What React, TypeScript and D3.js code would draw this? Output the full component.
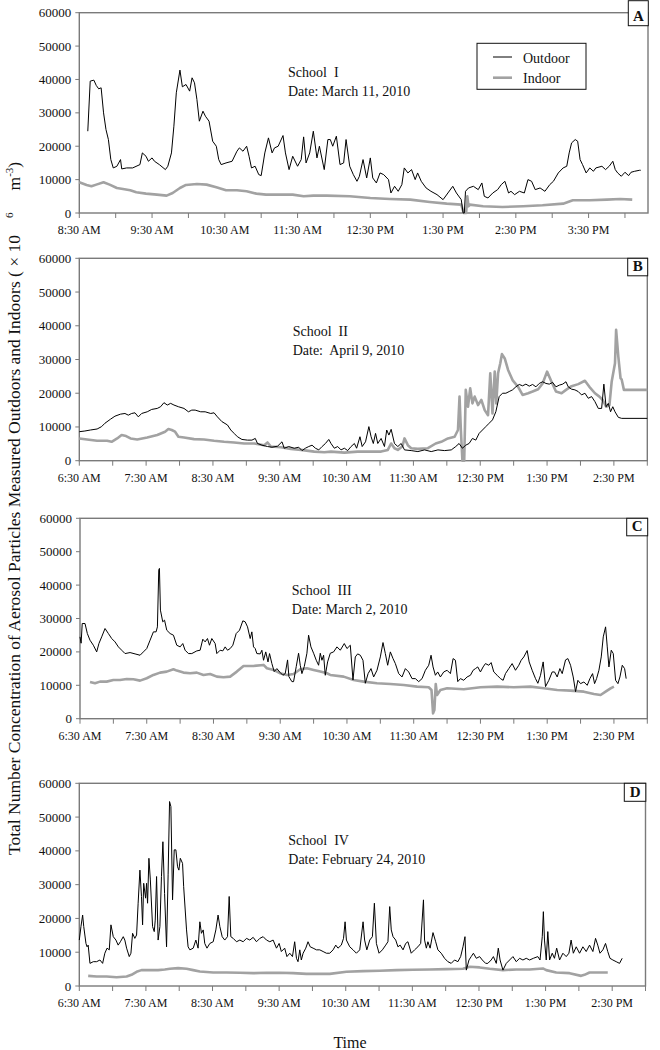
import React from 'react';
import * as d3 from 'd3';

// ---------- data: [minutes since midnight, concentration] ----------
const schoolIOutdoor: [number, number][] = [[517,24500],[519,39500],[522,39800],[524,38200],[526,37200],[528,37500],[530,30000],[532,25000],[534,22000],[536,16000],[538,13500],[541,14000],[544,16000],[545,13200],[549,13500],[554,13500],[560,14500],[562,18000],[565,17000],[567,15500],[570,16500],[572,15500],[576,14500],[581,13000],[583,14000],[586,18000],[588,26000],[590,36000],[593,42800],[595,37800],[598,38500],[601,36500],[603,40500],[605,39000],[607,34000],[609,27500],[612,30500],[614,29000],[617,27500],[620,21500],[623,20000],[625,16000],[627,14500],[631,15000],[636,15500],[640,18500],[642,19500],[645,18500],[648,20000],[650,17000],[652,13500],[655,14000],[658,11500],[660,11200],[663,18000],[666,22500],[669,18000],[671,19500],[674,20000],[678,23200],[680,18000],[683,13000],[686,17000],[690,14000],[693,16000],[695,22800],[697,15000],[700,18000],[703,24500],[706,16500],[708,20000],[712,13000],[715,22000],[717,22000],[719,20000],[722,23000],[725,14500],[728,15000],[730,22000],[733,14000],[736,11500],[739,9500],[741,11000],[744,16000],[747,10500],[750,16500],[752,10500],[755,9000],[758,12000],[761,11500],[765,10000],[767,6000],[770,8000],[773,6500],[776,8500],[778,13500],[781,12000],[784,13000],[787,10000],[789,12000],[792,9500],[796,7500],[800,6500],[805,5500],[810,4000],[814,6000],[818,8000],[821,6000],[825,4000],[826.5,0],[827.5,0],[828.5,6500],[831,7500],[835,8000],[839,7000],[842,9000],[844,5000],[847,4500],[851,6000],[855,7000],[858,8500],[861,9500],[864,6000],[866,6500],[869,5500],[873,6500],[877,6000],[880,10000],[883,9500],[886,7000],[890,7500],[894,6500],[898,8500],[901,9500],[905,12000],[909,13500],[912,14000],[914,18000],[916,21000],[919,22000],[921,21500],[923,16000],[925,14500],[928,12000],[931,13500],[934,12500],[936,13500],[941,14000],[944,13000],[947,14000],[950,15500],[952,13000],[954,12000],[957,11000],[960,12200],[963,11200],[965,12200],[968,12500],[972,12800],[973,12800]];

const schoolIIndoor: [number, number][] = [[510,9200],[516,8400],[520,8000],[524,8500],[530,9200],[535,8500],[541,7500],[546,7200],[552,6800],[557,6200],[565,5800],[574,5500],[582,5200],[587,6000],[593,7500],[598,8400],[607,8700],[615,8500],[623,7700],[631,6800],[640,6800],[648,6500],[656,5800],[664,5500],[675,5500],[686,5500],[695,5000],[703,5200],[714,5200],[733,5000],[750,4500],[766,4200],[783,4000],[799,3300],[813,2800],[825,2500],[827,0],[829,0],[830,5000],[831,2000],[832,2500],[843,2000],[859,1800],[876,2000],[892,2300],[909,2800],[917,3800],[931,3800],[945,4000],[956,4200],[966,4000]];

const schoolIIOutdoor: [number, number][] = [[390,8600],[395,8800],[400,9100],[406,9400],[410,10100],[413,11100],[418,12300],[422,13200],[427,13800],[431,14000],[434,13500],[437,14000],[440,14200],[443,13000],[446,14000],[451,14500],[455,15200],[460,15500],[463,16000],[466,17200],[469,16500],[472,17000],[475,16500],[479,16000],[484,15500],[488,14500],[491,15000],[494,15000],[499,14500],[503,14500],[508,14000],[511,14200],[514,13000],[518,11600],[523,10600],[526,9100],[529,8100],[532,7100],[536,6300],[541,6100],[545,6100],[548,6600],[550,5100],[554,4600],[559,4200],[563,4000],[568,4300],[572,5600],[574,3700],[578,4200],[583,3700],[587,4000],[590,3000],[593,3700],[596,4200],[599,4600],[602,3700],[605,3200],[608,4200],[611,5100],[614,6300],[616,5100],[619,3700],[622,4200],[625,3200],[628,3700],[631,3000],[634,4200],[637,5100],[639,3700],[642,7100],[644,4200],[647,5600],[650,10100],[652,7100],[654,5100],[656,8100],[658,5100],[661,6600],[664,4200],[666,9100],[668,7600],[670,9300],[673,5100],[676,4200],[679,5100],[682,3200],[688,3000],[694,2700],[700,3200],[706,2700],[712,3200],[718,3000],[724,3200],[728,4200],[731,5100],[734,3700],[737,4600],[740,5100],[743,6600],[746,6100],[749,8100],[752,9100],[755,10100],[758,11100],[761,12100],[764,14500],[767,19000],[770,20000],[773,20000],[776,20500],[779,21000],[782,21900],[785,22600],[788,22200],[791,22700],[794,22100],[797,22600],[800,21900],[803,22900],[806,23400],[809,22900],[812,22700],[815,23200],[818,21900],[821,22400],[824,22700],[827,23400],[829,21900],[832,21200],[835,21000],[838,20500],[841,19500],[844,20000],[847,18500],[850,19000],[853,17500],[856,15500],[859,15500],[861,22700],[863,16000],[865,17000],[867,14500],[869,16000],[871,14500],[874,12850],[877,12550],[900,12550]];

const schoolIIIndoor: [number, number][] = [[390,6600],[397,6300],[406,5900],[415,5900],[419,5600],[424,6600],[428,7600],[432,7300],[436,6600],[442,6300],[451,6900],[460,7600],[467,8600],[470,9400],[473,9100],[476,8600],[479,7100],[484,6900],[493,6400],[502,6300],[511,5900],[520,5600],[529,5400],[538,5100],[547,5100],[556,4600],[559,5400],[562,4200],[571,4000],[580,3500],[589,3200],[601,2700],[610,2500],[616,2700],[628,2400],[640,2700],[652,2700],[661,2700],[667,3200],[670,5100],[673,3700],[676,3200],[680,4200],[682,6600],[685,4600],[688,3700],[694,3500],[703,3700],[710,5100],[715,5600],[721,6600],[727,7100],[730,9100],[731.4,19000],[732.6,9100],[734,0],[735.6,0],[737,21000],[739,16000],[741,21450],[743,17000],[745,19000],[748,16500],[751,18000],[754,15000],[757,13500],[759,25900],[761,14000],[763,26400],[764.4,17000],[766,25900],[768,28900],[769.5,31600],[772,30300],[775,26900],[779,23900],[784,21900],[788,19500],[793,20000],[797,20500],[802,21200],[806,22900],[810,26400],[814,23400],[818,20500],[823,20000],[827,21000],[832,22100],[838,22700],[844,23700],[848,21900],[853,20000],[857,19000],[860,18000],[863,16000],[866,16500],[868,23400],[871,28900],[872,38800],[874,30800],[876,24400],[877,24100],[879,21000],[900,21000]];

const schoolIIIOutdoor: [number, number][] = [[390,24500],[391,22600],[392,28500],[394.5,28500],[396.6,25500],[399,23500],[402,22000],[405,20000],[407,22500],[409.5,24500],[412.5,27000],[415.5,25500],[418.5,24000],[421.5,23000],[424.5,21500],[427.5,20500],[430.5,19500],[435,19800],[439.5,19400],[444,19000],[447,20000],[450,21000],[453,23500],[456,26000],[458.4,26000],[459.6,27500],[460.8,44500],[461.4,45000],[462.3,32500],[464.4,29000],[466,29500],[468,26500],[471,25500],[474,25000],[477,22000],[480,21500],[482.4,22500],[484.5,20500],[487.5,19500],[490.5,19500],[495,20300],[498,20500],[500.4,23800],[502.5,23000],[504.6,24000],[506.4,22000],[508.5,24000],[511.5,22500],[513,19500],[516,20500],[518.4,20300],[520.5,21500],[522.6,20500],[525,21000],[527.4,22000],[530.4,25500],[533.4,26500],[536.4,29300],[538.5,29000],[540.6,27500],[543,24000],[544.5,26000],[546,21500],[547.5,21000],[549,19500],[552,19400],[553.5,20500],[555,17500],[557,20000],[559,17000],[560.4,19500],[562.5,16500],[564.6,14100],[567,15000],[570,13800],[572.4,13000],[574.5,13500],[576.6,17600],[577.8,12600],[580.5,11100],[582,11100],[584.4,15600],[586.5,19600],[588,16000],[589.5,13500],[591.6,15600],[594,19600],[595.5,25000],[597.6,21500],[600,19600],[602.4,17500],[604.5,16000],[606,19600],[607.5,17500],[609,19000],[610.5,13000],[612.6,17000],[615,19600],[618,20000],[621,21500],[624,20500],[627.6,22500],[630,21000],[633,22000],[635.4,11600],[637.5,18500],[639.6,19400],[642,19000],[644.4,17500],[646.5,10600],[649,13500],[651.6,15000],[654,12500],[657,14500],[660,18500],[662.4,22800],[664.5,19500],[666.6,16000],[669,20000],[671.4,18000],[673.5,16500],[676.5,13500],[679.5,12500],[682.5,15000],[685.5,14000],[688.5,12000],[691.5,12000],[694.5,11100],[697.5,12000],[700.5,14500],[703.5,16000],[705.6,19000],[707.4,15500],[709.5,13000],[711.6,14000],[714,12500],[717,14000],[720,14500],[723,13500],[725.4,18000],[727.5,17500],[729.6,11100],[732,12000],[735,11500],[738,12500],[741,13000],[743.4,14500],[745.5,15000],[747.6,15500],[750,14000],[752.4,15500],[754.5,16500],[757.5,16000],[759.6,16800],[762,14000],[765,13000],[768,12000],[770.4,11500],[772.5,13500],[775.5,15000],[778.5,16500],[781.5,14500],[784.5,16000],[786.6,17500],[789,18500],[792,20400],[793.8,17000],[796.5,14500],[799.5,12000],[801.6,10600],[804,13000],[806.4,17000],[808.5,9600],[811.5,11500],[814.5,14000],[816.6,14000],[819,12500],[821.4,15000],[823.5,13500],[826.5,17600],[828.6,18000],[831,16000],[833.4,12500],[835.5,8100],[837.6,11500],[840,10500],[843,11000],[846,10000],[848.4,12000],[850.8,13500],[852.6,10500],[854.4,12000],[856.5,14500],[858.6,18500],[860.4,24500],[862.5,27500],[864,21500],[865.5,15500],[867.6,20500],[869.4,19500],[871.5,11500],[873.6,10500],[875.4,12500],[877.5,16000],[879.6,15000],[881,12000]];

const schoolIIIIndoor: [number, number][] = [[399,11000],[403.5,10600],[408,11100],[414,11100],[420,11600],[426,11600],[432,11900],[438,11800],[444,11400],[450,12100],[456,13100],[462,13800],[468,14100],[474,14800],[477,14400],[483,13800],[489,13600],[495,13800],[501,13100],[507,13400],[513,12600],[519,12400],[525,12600],[531,14100],[537,15800],[546,15800],[555,16100],[558,15100],[564,14600],[570,13600],[576,13100],[582,13400],[588,14800],[594,15100],[600,14600],[606,14100],[612,13600],[615,13100],[627,12600],[636,11600],[645,11100],[657,10600],[669,10400],[681,10100],[693,9600],[703.5,9400],[706,8600],[707.4,1600],[708.6,2600],[709.8,10400],[711,7100],[714,8600],[720,9100],[735,8800],[750,9400],[765,9600],[780,9400],[795,9600],[807,9100],[819,8600],[831,8400],[843,8100],[852,7400],[858,7100],[862.5,8100],[867,9100],[870,9600]];

const schoolIVOutdoor: [number, number][] = [[390,13600],[391.5,17600],[393,21000],[394,17600],[396,12600],[397,11600],[398,12100],[399.6,6700],[402.6,7200],[405.6,7200],[408.6,7700],[411,6700],[413,9700],[415,11200],[417,10700],[418.5,18100],[420.6,14600],[423,13600],[425,12100],[427,13100],[429.6,14600],[431,13600],[432.6,11200],[435,8700],[436.5,9700],[438,15600],[440,14100],[441.6,15100],[443,24500],[444.6,34300],[446,26500],[447,18100],[448,30400],[449.7,26000],[450.6,30400],[451.5,24500],[452.7,37800],[454,31400],[456,17600],[457.5,16100],[458.4,19500],[459.6,32400],[461,13600],[462.6,17600],[464,32400],[465.3,42700],[466.8,27400],[468.6,11600],[470,32900],[471.3,54600],[472.5,53100],[474,25500],[475.5,40300],[477,40300],[478.5,35300],[479.7,34300],[481,37800],[483,36300],[484,29400],[485.4,22500],[486.6,16600],[488,11600],[489.6,10700],[492.6,11200],[495,13600],[497,11200],[498.6,19000],[500,15600],[501.6,16600],[503,12600],[505,11200],[507.6,12600],[510.6,13100],[513,16600],[515,21000],[516.6,17600],[518.7,14600],[521,13600],[523.5,14600],[525,26500],[526.5,14600],[528.6,14100],[531.6,13100],[534.6,13600],[537.6,13100],[540.6,14100],[543.6,13600],[546.6,14400],[549.6,13100],[552.6,14100],[555.6,14600],[558.6,13600],[561.6,13100],[564.6,13600],[567.6,11200],[570,12600],[572,10200],[575,11200],[577,8700],[579.6,9700],[582,8700],[584,13100],[585.6,8200],[587,7200],[588.6,10700],[590,7700],[591.6,9700],[594,11200],[596,13100],[598,11600],[600.6,11200],[603.6,10700],[606.6,10700],[609.6,10200],[612.6,9700],[615.6,9700],[618.6,10700],[621,12100],[623,11200],[626,12100],[628,14100],[629.4,19000],[630.6,13600],[633.6,11600],[636.6,10700],[639.6,9700],[642.6,10700],[645.6,19000],[647,13600],[649,10700],[651.6,13600],[654,14600],[655.8,24500],[657.6,12600],[660,9700],[663,10700],[666,12100],[668,13100],[669.6,23500],[671,16600],[672.6,14600],[675,13600],[677,11600],[679,12100],[681.6,10700],[684,12600],[686,13100],[689,9700],[692,10700],[695,11600],[697.5,12600],[700,25500],[701,13600],[702.6,11200],[704,13100],[706,11200],[708.6,15800],[711,13100],[713,10700],[716,9700],[719,8200],[722,7200],[725,6700],[728,7700],[731,7200],[733.5,8700],[735.6,11600],[737.4,14600],[738.6,4700],[741,7700],[743,8700],[745,9700],[747.6,8200],[750.6,8700],[753,7700],[756,6700],[758,6700],[761,7700],[763,8700],[765.6,6700],[767.4,11200],[769,7700],[771.6,4700],[774.6,6700],[777.6,7700],[780.6,8700],[783.6,7200],[786.6,8200],[789.6,7700],[792.6,8200],[795.6,7700],[799,8200],[803,8700],[805,7700],[807,14600],[808,22000],[809,13600],[810.6,7700],[812,16100],[813.6,7700],[816,9700],[818,8200],[820,11200],[822.6,7700],[825.6,9700],[828.6,8700],[831,9700],[833,13600],[835,9700],[837.6,11600],[840.6,9700],[843.6,11600],[846.6,10200],[849.6,12100],[852.6,10200],[855,14100],[857,12100],[859,9700],[861.6,10700],[864,12600],[866,10200],[868,8200],[870.6,7700],[873.6,7200],[876.6,6700],[879,8200]];

const schoolIVIndoor: [number, number][] = [[398,3000],[405.6,2800],[414.6,2800],[423.6,2600],[432.6,2800],[437,3300],[441.6,4200],[446,4700],[453.6,4700],[461,4700],[467,4900],[471.6,5100],[479,5300],[486.6,5100],[492.6,4700],[498.6,4300],[510.6,4000],[522.6,4000],[534.6,3900],[546.6,3800],[558.6,3900],[570.6,3900],[582.6,3800],[594.6,3600],[606.6,3600],[615.6,3600],[630.6,4200],[645.6,4400],[660.6,4500],[675.6,4700],[690.6,4800],[705.6,4900],[720.6,5000],[735.6,5100],[741.6,5700],[750.6,5500],[759.6,5100],[771.6,4700],[783.6,4900],[795.6,4900],[807.6,5200],[810.6,4700],[819.6,4000],[831.6,3800],[842,3000],[845,3300],[849.6,4000],[866,4000]];

const yTicks = [0, 10000, 20000, 30000, 40000, 50000, 60000];
const panelLetters = ['A', 'B', 'C', 'D'];
const schoolNames = ['School  I', 'School  II', 'School  III', 'School  IV'];
const dates = ['Date: March 11, 2010', 'Date:  April 9, 2010', 'Date: March 2, 2010', 'Date: February 24, 2010'];
const legendLabels = ['Outdoor', 'Indoor'];
// x domains (minutes) and tick ranges
const xStarts = [510, 390, 390, 390];
const xEnds = [979, 900, 900, 900];
const tickEnds = [960, 900, 900, 900];
const labelEnds = [930, 870, 870, 870];

// ---------- layout ----------
const FONT = "'Times New Roman', 'Liberation Serif', Times, serif";
const layouts = [
  { left: 79.3, right: 648, top: 12.7, bottom: 213, textX: 288, textY: 77.3, boxX: 628.3, boxY: 0.7, boxW: 20, boxH: 25, letterY: 20.5 },
  { left: 79.3, right: 647.3, top: 258.3, bottom: 460.7, textX: 292.7, textY: 336, boxX: 627.7, boxY: 258.3, boxW: 20, boxH: 17.5, letterY: 271 },
  { left: 80, right: 647.3, top: 518.3, bottom: 718.7, textX: 291.7, textY: 595, boxX: 626.7, boxY: 518.3, boxW: 21, boxH: 17.5, letterY: 531 },
  { left: 79.3, right: 645.5, top: 783.3, bottom: 986, textX: 288.3, textY: 845, boxX: 624.3, boxY: 783.3, boxW: 21.5, boxH: 18, letterY: 797 },
];
const seriesOut = [schoolIOutdoor, schoolIIOutdoor, schoolIIIOutdoor, schoolIVOutdoor];
const seriesIn = [schoolIIndoor, schoolIIIndoor, schoolIIIIndoor, schoolIVIndoor];

const INDOOR = '#a2a2a2';
const AXIS = '#7a7a7a';

function fmtTime(t: number) {
  const h = Math.floor(t / 60);
  const m = t % 60;
  const ap = h >= 12 ? 'PM' : 'AM';
  const h12 = h > 12 ? h - 12 : h;
  return `${h12}:${String(m).padStart(2, '0')} ${ap}`;
}

function Panel({ i }: { i: number }) {
  const L = layouts[i];
  const x = d3.scaleLinear().domain([xStarts[i], xEnds[i]]).range([L.left, L.right]);
  const y = d3.scaleLinear().domain([0, 60000]).range([L.bottom, L.top]);
  const line = d3.line<[number, number]>().x(d => x(d[0])).y(d => y(d[1]));
  const ticks = d3.range(xStarts[i], tickEnds[i] + 1, 30);
  const labels = d3.range(xStarts[i], labelEnds[i] + 1, 60);
  return (
    <g>
      {/* frame */}
      <rect x={L.left} y={L.top} width={L.right - L.left} height={L.bottom - L.top} fill="none" stroke={AXIS} strokeWidth={1.4} />
      {/* y ticks */}
      {yTicks.map(v => (
        <g key={v}>
          <line x1={L.left - 4} x2={L.left} y1={y(v)} y2={y(v)} stroke={AXIS} strokeWidth={1} />
          <text x={L.left - 8} y={y(v) + 4.5} textAnchor="end" fontSize={13} fontFamily={FONT} fill="#111">{v}</text>
        </g>
      ))}
      {/* x ticks */}
      {ticks.map(t => (
        <line key={t} x1={x(t)} x2={x(t)} y1={L.bottom} y2={L.bottom + 5} stroke={AXIS} strokeWidth={1} />
      ))}
      {labels.map(t => (
        <text key={t} x={x(t)} y={L.bottom + 21} textAnchor="middle" fontSize={12} fontFamily={FONT} fill="#111">{fmtTime(t)}</text>
      ))}
      {/* series */}
      <path d={line(seriesIn[i]) || ''} fill="none" stroke={INDOOR} strokeWidth={2.6} strokeLinejoin="round" />
      <path d={line(seriesOut[i]) || ''} fill="none" stroke="#000" strokeWidth={1} strokeLinejoin="round" />
      {/* annotation */}
      <text x={L.textX} y={L.textY} fontSize={14} fontFamily={FONT} fill="#111" style={{ whiteSpace: 'pre' }}>{schoolNames[i]}</text>
      <text x={L.textX} y={L.textY + 18.7} fontSize={14} fontFamily={FONT} fill="#111" style={{ whiteSpace: 'pre' }}>{dates[i]}</text>
      {/* panel letter */}
      <rect x={L.boxX} y={L.boxY} width={L.boxW} height={L.boxH} fill="#fff" stroke="#111" strokeWidth={1} />
      <text x={L.boxX + L.boxW / 2} y={L.letterY} textAnchor="middle" fontSize={15} fontWeight="bold" fontFamily={FONT} fill="#111">{panelLetters[i]}</text>
    </g>
  );
}

export default function App() {
  return (
    <svg width={660} height={1050} viewBox="0 0 660 1050" style={{ position: 'absolute', left: 0, top: 0, background: '#fff' }}>
      <rect x={0} y={0} width={660} height={1050} fill="#fff" />
      {[0, 1, 2, 3].map(i => <Panel key={i} i={i} />)}
      {/* legend */}
      <g>
        <rect x={477} y={43.3} width={109} height={46} fill="#fff" stroke="#111" strokeWidth={1} />
        <line x1={493} x2={512} y1={57} y2={57} stroke="#000" strokeWidth={1} />
        <text x={523} y={62.5} fontSize={14} fontFamily={FONT} fill="#111">{legendLabels[0]}</text>
        <line x1={493} x2={512} y1={77.7} y2={77.7} stroke={INDOOR} strokeWidth={2.6} />
        <text x={523} y={83.3} fontSize={14} fontFamily={FONT} fill="#111">{legendLabels[1]}</text>
      </g>
      {/* y axis title */}
      <text transform="translate(19.5,855) rotate(-90)" fontSize={17.5} fontFamily={FONT} fill="#111">
        <tspan>Total Number Concentration of Aerosol Particles Measured Outdoors and Indoors ( × 10</tspan>
        <tspan dx={17} dy={-7} fontSize={11}>6</tspan>
        <tspan dx={22} dy={7}>m</tspan>
        <tspan dy={-7} fontSize={11}>-3</tspan>
        <tspan dy={7}>)</tspan>
      </text>
      <text x={350} y={1048} textAnchor="middle" fontSize={16} fontFamily={FONT} fill="#111">Time</text>
    </svg>
  );
}
